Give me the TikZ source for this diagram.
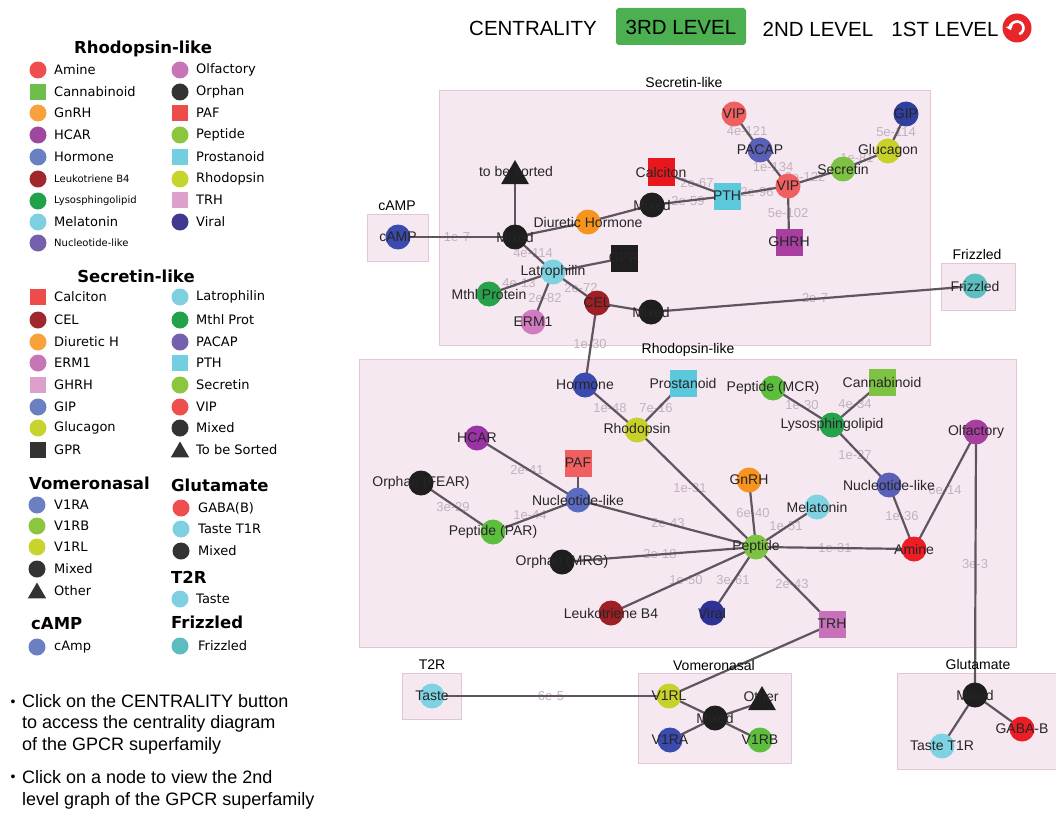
\documentclass[tikz,border=0pt]{standalone}
\usepackage{fontspec}
\setmainfont{Liberation Sans}
\newfontfamily\dvs{DejaVu Sans}
\usetikzlibrary{shapes.geometric,arrows.meta}
\pgfdeclarelayer{boxes}
\pgfdeclarelayer{links}
\pgfdeclarelayer{labels}
\pgfsetlayers{boxes,links,main,labels}

% graph colours
\definecolor{grpfill}{HTML}{F6E8F1}
\definecolor{grpdraw}{HTML}{E2C6D6}
\definecolor{linkc}{HTML}{5F5560}
\definecolor{edgetxt}{HTML}{C2B2BE}
\definecolor{labtxt}{HTML}{262626}
\definecolor{nblack}{HTML}{1E1E1E}
\definecolor{cblue}{HTML}{3A4AAE}
\definecolor{corange}{HTML}{F7941D}
\definecolor{cred}{HTML}{E8171E}
\definecolor{ccyan}{HTML}{5BC8DB}
\definecolor{cvip}{HTML}{F06060}
\definecolor{cpacap}{HTML}{5A5FB8}
\definecolor{cgreen}{HTML}{7DC242}
\definecolor{cyellow}{HTML}{C8D12A}
\definecolor{cdblue}{HTML}{2E3F9E}
\definecolor{cmag}{HTML}{A83EA0}
\definecolor{clatro}{HTML}{7ED3E2}
\definecolor{cdgreen}{HTML}{27A24A}
\definecolor{cpink}{HTML}{D27BC0}
\definecolor{cdred}{HTML}{9E1F24}
\definecolor{cteal}{HTML}{5CC0C0}
\definecolor{cpgreen}{HTML}{5CBE3C}
\definecolor{cpurple}{HTML}{9A33A6}
\definecolor{cnuc}{HTML}{5A6BC0}
\definecolor{camine}{HTML}{EE1C24}
\definecolor{cviral}{HTML}{2E3196}
\definecolor{ctrh}{HTML}{C772B8}
\definecolor{btngreen}{HTML}{4CAF50}
\definecolor{iconred}{HTML}{E8262A}
% legend colours
\definecolor{lamine}{HTML}{EF4E4E}
\definecolor{lcanna}{HTML}{6DBE4B}
\definecolor{lgnrh}{HTML}{F9A23B}
\definecolor{lhcar}{HTML}{A0489F}
\definecolor{lhorm}{HTML}{6B80C2}
\definecolor{lleuk}{HTML}{A0282D}
\definecolor{llyso}{HTML}{22A14B}
\definecolor{lmela}{HTML}{7ECFDF}
\definecolor{lnucl}{HTML}{7460AC}
\definecolor{lolf}{HTML}{C675B6}
\definecolor{lorph}{HTML}{333333}
\definecolor{lpaf}{HTML}{EE4B4B}
\definecolor{lpep}{HTML}{8CC63F}
\definecolor{lpros}{HTML}{73CFE0}
\definecolor{lrhod}{HTML}{C8D42E}
\definecolor{ltrh}{HTML}{DDA0CB}
\definecolor{lvir}{HTML}{40398F}
\definecolor{lfriz}{HTML}{5BBDBD}

\newcommand{\lsm}{\fontsize{10}{12}\selectfont}
\newcommand{\gnd}[5]{%
  \node[#2, fill=#3] (#1) at (#4) {};
  \begin{pgfonlayer}{labels}
    \node[nl] (#1t) at (#4) {#5};
  \end{pgfonlayer}}

\tikzset{
  gn/.style={circle, minimum size=25pt, inner sep=0pt},
  gs/.style={rectangle, minimum size=27pt, inner sep=0pt},
  gt/.style={regular polygon, regular polygon sides=3, minimum size=32pt, inner sep=0pt},
  nl/.style={font=\fontsize{14}{16}\selectfont, text=labtxt, inner sep=0pt},
  el/.style={font=\fontsize{13}{15}\selectfont, text=edgetxt, inner sep=0pt},
  link/.style={draw=linkc, line width=2.2pt},
  grp/.style={fill=grpfill, draw=grpdraw, line width=1pt},
  gtl/.style={font=\fontsize{14}{16}\selectfont, text=black, inner sep=0pt},
  lc/.style={circle, minimum size=17pt, inner sep=0pt},
  ls/.style={rectangle, minimum size=16pt, inner sep=0pt},
  lt/.style={regular polygon, regular polygon sides=3, minimum size=21pt, inner sep=0pt},
  lx/.style={font=\dvs\fontsize{13}{15}\selectfont, anchor=west, inner sep=0pt},
  lhead/.style={font=\dvs\bfseries\fontsize{16.5}{18}\selectfont, inner sep=0pt},
  topbtn/.style={font=\fontsize{20.5}{23}\selectfont, inner sep=0pt},
  note/.style={font=\fontsize{18}{21.5}\selectfont, anchor=west, inner sep=0pt, align=left},
}

\begin{document}
\begin{tikzpicture}[x=1pt,y=-1pt]
\useasboundingbox (0,0) rectangle (1056,813);
\begin{pgfonlayer}{boxes}
\fill[white] (0,0) rectangle (1056,813);
\end{pgfonlayer}

% ---------------- top bar ----------------
\node[topbtn] (bcent) at (533,28) {CENTRALITY};
\fill[btngreen, rounded corners=3pt] (616,8) rectangle (746,45);
\node[topbtn] (b3rd) at (681,27) {3RD LEVEL};
\node[topbtn] (b2nd) at (818,29) {2ND LEVEL};
\node[topbtn] (b1st) at (945,29) {1ST LEVEL};
\node[circle, fill=iconred, minimum size=29pt, inner sep=0pt] (icon) at (1017,28) {};
\begin{scope}[shift={(1017,28)}, yscale=-1]
  \draw[white, line width=2.6pt, {Triangle[length=4.5pt,width=7pt]}-]
    (200:6.5) arc[start angle=200, end angle=-70, radius=6.5];
\end{scope}

% ---------------- legend ----------------
\node[lhead] (hrhod) at (143,49) {Rhodopsin-like};
\foreach \y/\c/\s/\t [count=\i] in {70/lamine/lc/Amine, 92/lcanna/ls/Cannabinoid, 113/lgnrh/lc/GnRH, 135/lhcar/lc/HCAR, 157/lhorm/lc/Hormone, 179/lleuk/lc/{\lsm Leukotriene B4}, 201/llyso/lc/{\lsm Lysosphingolipid}, 222/lmela/lc/Melatonin, 243/lnucl/lc/{\lsm Nucleotide-like}}
  {\node[\s, fill=\c] (ra\i) at (38,\y) {}; \node[lx] (rat\i) at (54,\y) {\t};}
\foreach \y/\c/\s/\t [count=\i] in {70/lolf/lc/Olfactory, 92/lorph/lc/Orphan, 113/lpaf/ls/PAF, 135/lpep/lc/Peptide, 157/lpros/ls/Prostanoid, 179/lrhod/lc/Rhodopsin, 200/ltrh/ls/TRH, 222/lvir/lc/Viral}
  {\node[\s, fill=\c] (rb\i) at (180,\y) {}; \node[lx] (rbt\i) at (196,\y) {\t};}

\node[lhead] (hsec) at (136,276) {Secretin-like};
\foreach \y/\c/\s/\t [count=\i] in {297/lpaf/ls/Calciton, 320/lleuk/lc/CEL, 342/lgnrh/lc/Diuretic H, 363/lolf/lc/ERM1, 385/ltrh/ls/GHRH, 407/lhorm/lc/GIP, 428/lrhod/lc/Glucagon, 450/lorph/ls/GPR}
  {\node[\s, fill=\c] (sa\i) at (38,\y) {}; \node[lx] (sat\i) at (54,\y) {\t};}
\foreach \y/\c/\s/\t [count=\i] in {297/lmela/lc/Latrophilin, 320/llyso/lc/Mthl Prot, 342/lnucl/lc/PACAP, 363/lpros/ls/PTH, 385/lpep/lc/Secretin, 407/lamine/lc/VIP, 428/lorph/lc/Mixed}
  {\node[\s, fill=\c] (sb\i) at (180,\y) {}; \node[lx] (sbt\i) at (196,\y) {\t};}
\node[lt, fill=lorph] (sb8) at (180,452) {};
\node[lx] (sbt8) at (196,450) {To be Sorted};

\node[lhead, anchor=west] (hvom) at (29,483) {Vomeronasal};
\foreach \y/\c/\t [count=\i] in {505/lhorm/V1RA, 526/lpep/V1RB, 547/lrhod/V1RL, 569/lorph/Mixed}
  {\node[lc, fill=\c] (va\i) at (37,\y) {}; \node[lx] (vat\i) at (54,\y) {\t};}
\node[lt, fill=lorph] (va5) at (37,593) {};
\node[lx] (vat5) at (54,591) {Other};

\node[lhead, anchor=west] (hglu) at (171,485) {Glutamate};
\foreach \y/\c/\t [count=\i] in {508/lamine/GABA(B), 529/lmela/Taste T1R, 551/lorph/Mixed}
  {\node[lc, fill=\c] (ga\i) at (181,\y) {}; \node[lx] (gat\i) at (198,\y) {\t};}

\node[lhead, anchor=west] (ht2r) at (171,577) {T2R};
\node[lc, fill=lmela] (ta1) at (180,599) {};
\node[lx] (tat1) at (196,599) {Taste};

\node[lhead, anchor=west] (hcamp) at (31,624) {cAMP};
\node[lc, fill=lhorm] (ca1) at (37,647) {};
\node[lx] (cat1) at (54,647) {cAmp};

\node[lhead, anchor=west] (hfri) at (171,622) {Frizzled};
\node[lc, fill=lfriz] (fa1) at (180,646) {};
\node[lx] (fat1) at (198,646) {Frizzled};

% ---------------- notes ----------------
\node[font=\fontsize{14}{16}\selectfont, inner sep=0pt] (bul1) at (13,703) {\textbullet};
\node[note] (note1) at (22,724) {Click on the CENTRALITY button\\to access the centrality diagram\\of the GPCR superfamily};
\node[font=\fontsize{14}{16}\selectfont, inner sep=0pt] (bul2) at (13,778) {\textbullet};
\node[note] (note2) at (22,790) {Click on a node to view the 2nd\\level graph of the GPCR superfamily};

% ---------------- groups ----------------
\begin{pgfonlayer}{boxes}
\draw[grp] (439,91) rectangle (930,345);
\draw[grp] (367,214) rectangle (428,261);
\draw[grp] (941,263) rectangle (1015,310);
\draw[grp] (359,359) rectangle (1016,647);
\draw[grp] (402,673) rectangle (461,719);
\draw[grp] (638,673) rectangle (791,763);
\draw[grp] (897,673) rectangle (1056,769);
% edge labels
\node[el] (e1) at (457,237) {1e-7};
\node[el] (e2) at (533,253) {4e-114};
\node[el] (e3) at (519,283) {4e-13};
\node[el] (e4) at (545,298) {2e-82};
\node[el] (e5) at (581,288) {2e-72};
\node[el] (e6) at (590,344) {1e-30};
\node[el] (e7) at (697,183) {2e-67};
\node[el] (e8) at (688,201) {2e-59};
\node[el] (e9) at (757,192) {2e-96};
\node[el] (e10) at (747,131) {4e-121};
\node[el] (e11) at (773,167) {1e-134};
\node[el] (e12) at (805,177) {2e-122};
\node[el] (e13) at (857,158) {1e-81};
\node[el] (e14) at (896,132) {5e-114};
\node[el] (e15) at (788,213) {5e-102};
\node[el] (e16) at (815,298) {2e-7};
\node[el] (e17) at (610,408) {1e-48};
\node[el] (e18) at (656,408) {7e-16};
\node[el] (e19) at (690,488) {1e-31};
\node[el] (e20) at (527,470) {2e-41};
\node[el] (e21) at (453,507) {3e-29};
\node[el] (e22) at (530,515) {1e-44};
\node[el] (e23) at (668,523) {2e-43};
\node[el] (e24) at (660,554) {2e-18};
\node[el] (e25) at (686,580) {1e-50};
\node[el] (e26) at (733,580) {3e-61};
\node[el] (e27) at (792,584) {2e-43};
\node[el] (e28) at (753,513) {6e-40};
\node[el] (e29) at (786,526) {1e-51};
\node[el] (e30) at (835,548) {1e-31};
\node[el] (e31) at (802,405) {1e-30};
\node[el] (e32) at (855,404) {4e-34};
\node[el] (e33) at (855,455) {1e-27};
\node[el] (e34) at (945,490) {6e-14};
\node[el] (e35) at (902,516) {1e-36};
\node[el] (e36) at (975,564) {3e-3};
\node[el] (e37) at (551,696) {6e-5};
\end{pgfonlayer}
\node[gtl] (tsec) at (684,82) {Secretin-like};
\node[gtl] (tcamp) at (397,206) {cAMP};
\node[gtl] (tfriz) at (977,254) {Frizzled};
\node[gtl] (trhod) at (688,350) {Rhodopsin-like};
\node[gtl] (tt2r) at (432,665) {T2R};
\node[gtl] (tvom) at (714,665) {Vomeronasal};
\node[gtl] (tglu) at (978,664) {Glutamate};

% ---------------- nodes: Secretin-like ----------------
\gnd{camp}{gn}{cblue}{398,237}{cAMP}
\node[gt, fill=nblack] (tbs) at (515,176) {};
\begin{pgfonlayer}{labels}\node[nl] (tbst) at (516,171) {to be sorted};\end{pgfonlayer}
\gnd{mixA}{gn}{nblack}{515,237}{Mixed}
\gnd{diur}{gn}{corange}{588,222}{Diuretic Hormone}
\gnd{mixB}{gn}{nblack}{652,205}{Mixed}
\gnd{calc}{gs}{cred}{661,172}{Calciton}
\gnd{pth}{gs}{ccyan}{727,196}{PTH}
\gnd{vipT}{gn}{cvip}{734,114}{VIP}
\gnd{pacap}{gn}{cpacap}{760,150}{PACAP}
\gnd{vipC}{gn}{cvip}{788,186}{VIP}
\gnd{secr}{gn}{cgreen}{843,169}{Secretin}
\gnd{gluc}{gn}{cyellow}{888,151}{Glucagon}
\gnd{gip}{gn}{cdblue}{906,114}{GIP}
\gnd{ghrh}{gs}{cmag}{789,242}{GHRH}
\gnd{gpr}{gs}{nblack}{624,258}{GPR}
\gnd{latro}{gn}{clatro}{553,272}{Latrophilin}
\gnd{mthl}{gn}{cdgreen}{489,294}{Mthl Protein}
\gnd{erm}{gn}{cpink}{533,322}{ERM1}
\gnd{cel}{gn}{cdred}{597,303}{CEL}
\gnd{mixC}{gn}{nblack}{651,312}{Mixed}
\gnd{friz}{gn}{cteal}{975,286}{Frizzled}

% ---------------- nodes: Rhodopsin-like ----------------
\gnd{horm}{gn}{cblue}{585,385}{Hormone}
\gnd{pros}{gs}{ccyan}{683,383}{Prostanoid}
\gnd{pmcr}{gn}{cpgreen}{773,388}{Peptide (MCR)}
\gnd{canna}{gs}{cgreen}{882,382}{Cannabinoid}
\gnd{rhod}{gn}{cyellow}{637,430}{Rhodopsin}
\gnd{lyso}{gn}{cdgreen}{832,425}{Lysosphingolipid}
\gnd{olf}{gn}{cmag}{976,432}{Olfactory}
\gnd{hcar}{gn}{cpurple}{477,438}{HCAR}
\gnd{paf}{gs}{cvip}{578,463}{PAF}
\gnd{gnrh}{gn}{corange}{749,480}{GnRH}
\gnd{mela}{gn}{clatro}{817,507}{Melatonin}
\gnd{nucR}{gn}{cpacap}{889,485}{Nucleotide-like}
\gnd{fear}{gn}{nblack}{421,483}{Orphan (FEAR)}
\gnd{nucL}{gn}{cnuc}{578,500}{Nucleotide-like}
\gnd{par}{gn}{cpgreen}{493,532}{Peptide (PAR)}
\gnd{pep}{gn}{cgreen}{756,547}{Peptide}
\gnd{amine}{gn}{camine}{914,549}{Amine}
\gnd{mrg}{gn}{nblack}{562,562}{Orphan (MRG)}
\gnd{leuk}{gn}{cdred}{611,613}{Leukotriene B4}
\gnd{viral}{gn}{cviral}{712,613}{Viral}
\gnd{trh}{gs}{ctrh}{832,624}{TRH}

% ---------------- nodes: small groups ----------------
\gnd{taste}{gn}{clatro}{432,696}{Taste}
\gnd{v1rl}{gn}{cyellow}{669,696}{V1RL}
\node[gt, fill=nblack] (other) at (762,702) {};
\begin{pgfonlayer}{labels}\node[nl] (othert) at (761,696) {Other};\end{pgfonlayer}
\gnd{vmix}{gn}{nblack}{715,718}{Mixed}
\gnd{v1ra}{gn}{cblue}{670,740}{V1RA}
\gnd{v1rb}{gn}{cpgreen}{760,740}{V1RB}
\gnd{gmix}{gn}{nblack}{975,695}{Mixed}
\gnd{tt1r}{gn}{clatro}{942,746}{Taste T1R}
\gnd{gaba}{gn}{camine}{1022,729}{GABA-B}

% ---------------- links ----------------
\begin{pgfonlayer}{links}
\foreach \a/\b in {camp/mixA, tbs/mixA, mixA/diur, diur/mixB, mixB/pth, calc/pth, pth/vipC,
  vipT/pacap, pacap/vipC, vipC/secr, secr/gluc, gluc/gip, vipC/ghrh, mixA/latro, latro/gpr,
  latro/mthl, latro/erm, latro/cel, cel/mixC, mixC/friz, cel/horm,
  horm/rhod, pros/rhod, rhod/pep, hcar/nucL, paf/nucL, fear/par, par/nucL, nucL/pep, mrg/pep,
  leuk/pep, viral/pep, pep/trh, gnrh/pep, mela/pep, pep/amine, pmcr/lyso, canna/lyso, lyso/nucR,
  nucR/amine, olf/amine, olf/gmix, trh/v1rl, taste/v1rl, v1rl/vmix, other/vmix, v1ra/vmix,
  v1rb/vmix, gmix/tt1r, gmix/gaba}
  {\draw[link] (\a.center) -- (\b.center);}
\end{pgfonlayer}
\end{tikzpicture}
\end{document}
